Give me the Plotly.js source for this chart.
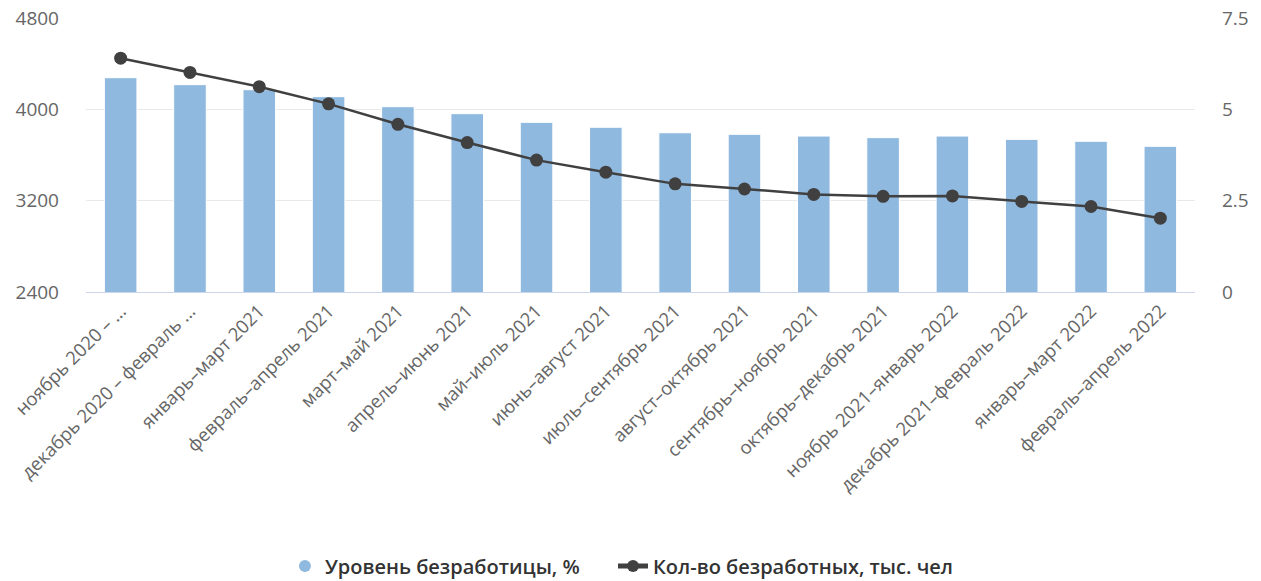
<!DOCTYPE html>
<html>
<head>
<meta charset="utf-8">
<script src="https://cdn.plot.ly/plotly-3.0.1.min.js"></script>
<style>html,body{margin:0;padding:0;background:#fff;}#chart{width:1261px;height:581px;}</style>
</head>
<body>
<div id="chart"></div>
<script>
var categories = [
  "ноябрь 2020 – ...",
  "декабрь 2020 – февраль ...",
  "январь–март 2021",
  "февраль–апрель 2021",
  "март–май 2021",
  "апрель–июнь 2021",
  "май–июль 2021",
  "июнь–август 2021",
  "июль–сентябрь 2021",
  "август–октябрь 2021",
  "сентябрь–ноябрь 2021",
  "октябрь–декабрь 2021",
  "ноябрь 2021–январь 2022",
  "декабрь 2021–февраль 2022",
  "январь–март 2022",
  "февраль–апрель 2022"
];
var barValues = [4277, 4216, 4172, 4111, 4023, 3962, 3886, 3843, 3795, 3781, 3766, 3752, 3766, 3737, 3720, 3676];
var lineValues = [6.40, 6.01, 5.62, 5.15, 4.59, 4.09, 3.61, 3.28, 2.96, 2.82, 2.67, 2.62, 2.63, 2.48, 2.34, 2.02];
var barName = "Уровень безработицы, %";
var lineName = "Кол-во безработных, тыс. чел";
var leftTicks = [2400, 3200, 4000, 4800];
var rightTicks = [0, 2.5, 5, 7.5];

var barColor = "#90b9df";
var lineColor = "#404040";

var traces = [
  {
    type: "bar", x: categories, y: barValues, name: barName,
    marker: {color: barColor, line: {color: "#ffffff", width: 1}},
    showlegend: false, yaxis: "y", hoverinfo: "none"
  },
  {
    type: "scatter", mode: "markers", x: [categories[0]], y: [null], name: barName,
    marker: {color: barColor, size: 15, symbol: "circle"},
    showlegend: true, legend: "legend", yaxis: "y", hoverinfo: "none"
  },
  {
    type: "scatter", mode: "lines+markers", x: categories, y: lineValues, name: lineName,
    line: {color: lineColor, width: 2.5},
    marker: {color: lineColor, size: 13},
    showlegend: true, legend: "legend2", yaxis: "y2", hoverinfo: "none"
  }
];

var legendFont = {family: "Open Sans, sans-serif", size: 20, color: "#333333", weight: 600};

var layout = {
  width: 1261, height: 581,
  margin: {l: 86, r: 66, t: 18, b: 289, pad: 0, autoexpand: false},
  paper_bgcolor: "#ffffff", plot_bgcolor: "#ffffff",
  bargap: 0.53,
  showlegend: true,
  legend: {
    orientation: "h", x: 0.1794, xanchor: "left", y: -1.0, yanchor: "middle",
    font: legendFont, itemsizing: "constant", itemwidth: 30
  },
  legend2: {
    orientation: "h", x: 0.4752, xanchor: "left", y: -1.0, yanchor: "middle",
    font: legendFont, itemsizing: "constant", itemwidth: 30
  },
  xaxis: {
    type: "category", range: [-0.5, categories.length - 0.5], autorange: false,
    tickangle: -45, tickfont: {family: "Open Sans, sans-serif", size: 18.5, color: "#666666"},
    showgrid: false, showline: true, linecolor: "#ccd6eb", linewidth: 1,
    ticks: "", zeroline: false, automargin: false
  },
  yaxis: {
    range: [2400, 4800], tickvals: leftTicks, ticktext: leftTicks.map(String),
    tickfont: {family: "Open Sans, sans-serif", size: 19, color: "#666666"},
    showgrid: true, gridcolor: "#e9e9e9", gridwidth: 1, zeroline: false,
    showline: false, ticks: "", ticklabelstandoff: 26, automargin: false
  },
  yaxis2: {
    overlaying: "y", side: "right", range: [0, 7.5], tickvals: rightTicks,
    ticktext: rightTicks.map(String),
    tickfont: {family: "Open Sans, sans-serif", size: 19, color: "#666666"},
    showgrid: false, zeroline: false, showline: false, ticks: "",
    ticklabelstandoff: 26, automargin: false
  }
};

Plotly.newPlot("chart", traces, layout, {displayModeBar: false, staticPlot: true});
</script>
</body>
</html>
